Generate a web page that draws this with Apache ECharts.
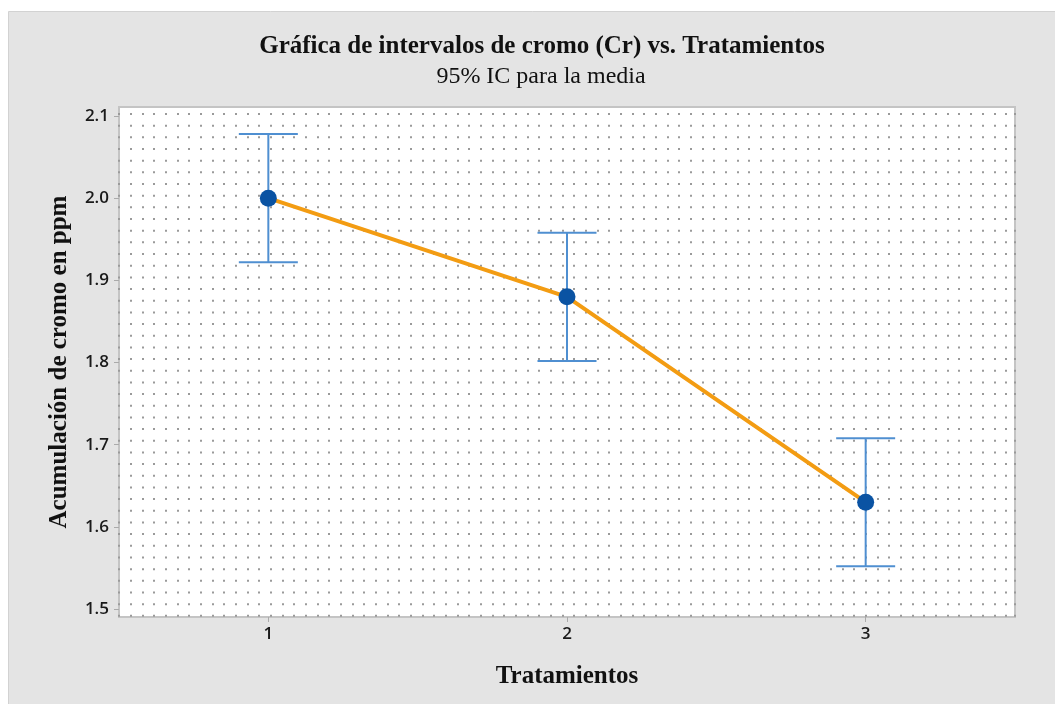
<!DOCTYPE html>
<html>
<head>
<meta charset="utf-8">
<script src="https://cdn.jsdelivr.net/npm/echarts@6/dist/echarts.min.js"></script>
<style>
html,body{margin:0;padding:0;background:#fff;}
#chart{width:1055px;height:704px;}
</style>
</head>
<body>
<div id="chart"></div>
<script>
const categories = ['1', '2', '3'];
const means = [2.000, 1.880, 1.630];
const lower = [1.922, 1.802, 1.552];
const upper = [2.078, 1.958, 1.708];
const yTicks = [1.5, 1.6, 1.7, 1.8, 1.9, 2.0, 2.1];

const chart = echarts.init(document.getElementById('chart'), null, {renderer: 'canvas'});

const G = {left: 119, top: 107, width: 896, height: 510};
const dotStep = 11.67;

const option = {
  backgroundColor: '#ffffff',
  animation: false,
  graphic: [{
    type: 'rect', z: -10, silent: true,
    shape: {x: 8.5, y: 11.5, width: 1060, height: 700},
    style: {fill: '#e4e4e4', stroke: '#d2d2d2', lineWidth: 1}
  }],
  title: [{
    text: 'Gráfica de intervalos de cromo (Cr) vs. Tratamientos',
    left: 537, top: 29, textAlign: 'center',
    textStyle: {fontFamily: 'Liberation Serif', fontWeight: 'bold', fontSize: 25, color: '#111'}
  }, {
    text: '95% IC para la media',
    left: 536, top: 60, textAlign: 'center',
    textStyle: {fontFamily: 'Liberation Serif', fontWeight: 'normal', fontSize: 24, color: '#111'}
  }],
  grid: {
    left: G.left, top: G.top, width: G.width, height: G.height,
    show: true, backgroundColor: '#ffffff', borderColor: '#c4c4c4', borderWidth: 2
  },
  xAxis: [{
    type: 'category', data: categories, boundaryGap: true,
    name: 'Tratamientos', nameLocation: 'middle', nameGap: 47,
    nameTextStyle: {fontFamily: 'Liberation Serif', fontWeight: 'bold', fontSize: 25, color: '#111'},
    axisLine: {show: false},
    axisTick: {show: true, alignWithLabel: true, length: 5, lineStyle: {color: '#aaaaaa', width: 1}},
    axisLabel: {fontFamily: 'Open Sans', fontWeight: 600, fontSize: 17, color: '#1a1a1a', margin: 9},
    splitLine: {show: false}
  }, {
    type: 'value', min: 0, max: G.width / dotStep, interval: 1, position: 'top',
    axisLine: {show: false}, axisTick: {show: false}, axisLabel: {show: false},
    splitLine: {show: true, lineStyle: {color: '#9a9a9a', width: 2, type: [2, dotStep - 2], dashOffset: dotStep - 6}}
  }],
  yAxis: [{
    type: 'value', min: 1.4903, max: 2.111,
    name: 'Acumulación de cromo en ppm', nameLocation: 'middle', nameGap: 47, nameRotate: 90,
    nameTextStyle: {fontFamily: 'Liberation Serif', fontWeight: 'bold', fontSize: 25, color: '#111'},
    axisLine: {show: false},
    axisTick: {show: true, length: 5, customValues: yTicks, lineStyle: {color: '#aaaaaa', width: 1}},
    axisLabel: {fontFamily: 'Open Sans', fontWeight: 600, fontSize: 17, color: '#1a1a1a', margin: 10, customValues: yTicks,
      formatter: v => Number(v).toFixed(1)},
    splitLine: {show: false}
  }],
  series: [{
    type: 'custom',
    xAxisIndex: 0, yAxisIndex: 0,
    data: categories.map((c, i) => [i, lower[i], upper[i]]),
    renderItem: function (params, api) {
      const x = api.value(0);
      const lo = api.coord([x, api.value(1)]);
      const hi = api.coord([x, api.value(2)]);
      const hw = 29.5;
      const st = {stroke: '#4f8fd1', lineWidth: 2, fill: null};
      return {type: 'group', children: [
        {type: 'line', shape: {x1: hi[0], y1: hi[1], x2: lo[0], y2: lo[1]}, style: st},
        {type: 'line', shape: {x1: hi[0] - hw, y1: hi[1], x2: hi[0] + hw, y2: hi[1]}, style: st},
        {type: 'line', shape: {x1: lo[0] - hw, y1: lo[1], x2: lo[0] + hw, y2: lo[1]}, style: st}
      ]};
    },
    z: 3
  }, {
    type: 'line',
    xAxisIndex: 0, yAxisIndex: 0,
    data: means,
    lineStyle: {color: '#f39c12', width: 4},
    symbol: 'circle', symbolSize: 17,
    itemStyle: {color: '#0a53a3', borderWidth: 0},
    z: 4
  }]
};
chart.setOption(option);
</script>
</body>
</html>
